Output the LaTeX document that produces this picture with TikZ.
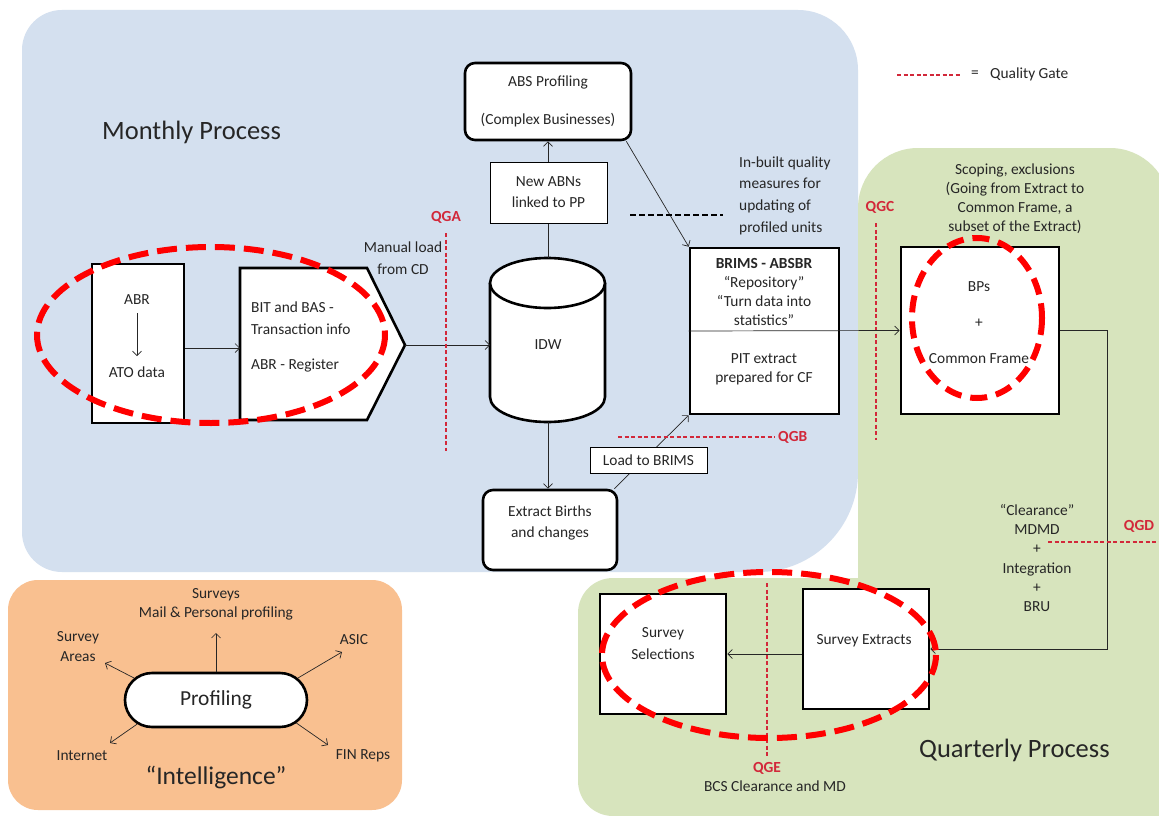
\documentclass[tikz,border=0pt]{standalone}
\usepackage{fontspec}
\setmainfont{Carlito}
\usetikzlibrary{arrows.meta,shapes.misc,calc}
\definecolor{bluebg}{HTML}{D4E0EF}
\definecolor{greenbg}{HTML}{D7E4BD}
\definecolor{orangebg}{HTML}{F9C090}
\definecolor{gatered}{HTML}{D2283A}
\definecolor{haloed}{HTML}{FF0000}
\definecolor{txt}{HTML}{262626}
\newcommand\fs{\fontsize{15.4}{19}\selectfont}
\tikzset{
  every node/.style={font=\fs, text=txt, inner sep=0pt},
  heavybox/.style={draw=black, line width=2.6pt, fill=white, inner sep=0pt},
  lightbox/.style={draw=black, line width=0.8pt, fill=white, inner sep=0pt},
  arr/.style={-{Straight Barb[length=4.5pt,width=9pt]}, line width=0.7pt, draw=black!85},
  gate/.style={draw=gatered, line width=1.8pt, dash pattern=on 4pt off 2.5pt},
  qg/.style={text=gatered, font=\bfseries\fs},
  halo/.style={draw=haloed, line width=6pt, dash pattern=on 20pt off 9pt},
  blackdash/.style={draw=black, line width=2pt, dash pattern=on 6pt off 3pt},
  ctext/.style={align=center},
}
\begin{document}
\begin{tikzpicture}[x=1pt,y=-1pt]
\useasboundingbox (0,0) rectangle (1159,816);
\clip (0,0) rectangle (1159,816);
\fill[white] (0,0) rectangle (1159,816);

% regions
\fill[bluebg] (22,50) arc(180:270:40) -- (798,10) arc(270:360:60) -- (858,472)
  arc(0:90:100) -- (62,572) arc(90:180:40) -- cycle;
\fill[greenbg] (858,208) arc(180:270:60) -- (1110,148) arc(270:360:60) -- (1170,816)
  -- (613,816) arc(90:180:35) -- (578,613) arc(180:270:35) -- (858,578) -- cycle;
\fill[orangebg, rounded corners=30] (8,580) rectangle (402,810);

% titles and legend
\node[anchor=west, font=\fontsize{26.5}{30}\selectfont] (tmonth) at (102,132) {Monthly Process};
\node[anchor=west, font=\fontsize{26.5}{30}\selectfont] (tquart) at (919,750) {Quarterly Process};
\coordinate (lg1) at (897,75);
\coordinate (lg2) at (961,75);
\draw[gate] (lg1) -- (lg2);
\node (lgeq) at (975,74) {=};
\node[anchor=west] (lgtxt) at (990,74) {Quality Gate};

% ABR box
\node[heavybox, minimum width=92, minimum height=159] (abr) at (138,343.5) {};
\node (abrt) at (137,300) {ABR};
\node (ato) at (137,372) {ATO data};
\draw[arr] (137,313) -- (137,356);

% pentagon
\draw[line width=2.6pt, fill=white, line join=miter] (240,268) -- (367,268) -- (405,345) -- (367,420) -- (240,420) -- cycle;
\coordinate (pentw) at (240,348);
\coordinate (penttip) at (405,345);
\node[anchor=west] (bit) at (251,307) {BIT and BAS -};
\node[anchor=west] (trans) at (251,329) {Transaction info};
\node[anchor=west] (reg) at (251,366) {ABR - Register};
\draw[arr] (abr.east |- pentw) -- (pentw);

% IDW cylinder
\draw[line width=2.6pt, fill=white] (490,283) -- (490,397) arc(180:0:57.5 and 25) -- (605,283);
\draw[line width=2.6pt, fill=white] (547.5,283) ellipse[x radius=57.5, y radius=25];
\coordinate (idwn) at (548,258);
\coordinate (idws) at (548,422);
\coordinate (idww) at (490,345);
\node (idw) at (548,345) {IDW};
\draw[arr] (penttip) -- (idww);

% manual load, QGA
\node[ctext, font=\fontsize{15.4}{22}\selectfont] (manual) at (403,258) {Manual load\\from CD};
\node[qg] (qga) at (446,217) {QGA};
\coordinate (qga1) at (446,233);
\coordinate (qga2) at (446,451);
\draw[gate] (qga1) -- (qga2);

% ABS profiling
\node[heavybox, rounded corners=10, minimum width=166, minimum height=77, ctext] (absp) at (548,101.5) {ABS Profiling\\[19pt](Complex Businesses)};
\draw[arr] (idwn) -- (absp.south);
\node[lightbox, minimum width=117, minimum height=61, ctext, font=\fontsize{15.4}{21}\selectfont] (abn) at (548.5,192.5) {New ABNs\\linked to PP};

% BRIMS
\node[heavybox, minimum width=149, minimum height=166] (brims) at (764.5,331) {};
\node[ctext] (brimst) at (764,292.5) {\textbf{BRIMS - ABSBR}\\“Repository”\\“Turn data into\\statistics”};
\node[ctext] (pit) at (764,369.5) {PIT extract\\prepared for CF};
\draw[arr] ($(absp.south east)+(-6,0)$) -- (brims.north west);

% in-built quality
\draw[blackdash] (630,215) -- (723,215);
\node[anchor=west, align=left, font=\fontsize{15.4}{21.7}\selectfont] (inbuilt) at (739,195.5) {In-built quality\\measures for\\updating of\\profiled units};

% Extract births
\node[heavybox, rounded corners=10, minimum width=134, minimum height=80] (ext) at (550,530) {};
\node[ctext, font=\fontsize{15.4}{21}\selectfont] (extt) at (550,522.5) {Extract Births\\and changes};
\draw[arr] (idws) -- (idws |- ext.north);
\draw[arr] ($(ext.north east)+(-4,0)$) -- (brims.south west);
\node[lightbox, minimum width=117, minimum height=26] (ltb) at (648.5,460) {Load to BRIMS};

% QGB
\coordinate (qgb1) at (618,437);
\coordinate (qgb2) at (775,437);
\draw[gate] (qgb1) -- (qgb2);
\node[qg, anchor=west] (qgb) at (778,437) {QGB};

% QGC and BPs
\node[qg] (qgc) at (880,207) {QGC};
\coordinate (qgc1) at (876,223);
\coordinate (qgc2) at (876,440);
\draw[gate] (qgc1) -- (qgc2);
\node[ctext] (scoping) at (1015,199) {Scoping, exclusions\\(Going from Extract to\\Common Frame, a\\subset of the Extract)};
\node[heavybox, minimum width=158, minimum height=167] (bps) at (980,330.5) {};
\node[ctext] (bpst) at (979,323) {BPs\\[17pt]+\\[17pt]Common Frame};
\draw[arr] (brims.west) -- (bps.west);

% survey boxes
\node[heavybox, minimum width=126, minimum height=120] (ssel) at (663,654) {};
\node[ctext, font=\fontsize{15.4}{22}\selectfont] (sselt) at (663,644) {Survey\\Selections};
\node[heavybox, minimum width=126, minimum height=120] (sext) at (866,649) {};
\node (sextt) at (864,641) {Survey Extracts};
\draw[arr] (bps.east) -- ++(47,0) |- (sext.east);
\draw[arr] (sext.west |- ssel.east) -- (ssel.east);

% clearance, QGD
\node[ctext, font=\fontsize{15.4}{19.2}\selectfont] (clear) at (1037,558) {“Clearance”\\MDMD\\+\\Integration\\+\\BRU};
\node[qg] (qgd) at (1139,526) {QGD};
\coordinate (qgd1) at (1048,542);
\coordinate (qgd2) at (1159,542);
\draw[gate] (qgd1) -- (qgd2);

% QGE
\coordinate (qge1) at (767,583);
\coordinate (qge2) at (767,758);
\draw[gate] (qge1) -- (qge2);
\node[qg] (qge) at (767,768) {QGE};
\node (bcs) at (775,786) {BCS Clearance and MD};

% red halo ellipses
\draw[halo] (211,335) ellipse[x radius=174, y radius=88];
\draw[halo, dash pattern=on 17pt off 9pt] (977,318) ellipse[x radius=65, y radius=80];
\draw[halo] (769,655) ellipse[x radius=167, y radius=83];

% intelligence
\node[rounded rectangle, draw=black, line width=2.6pt, fill=white, minimum width=182, minimum height=54, font=\fontsize{21.4}{24}\selectfont] (prof) at (216,700) {Profiling};
\node[ctext] (surv) at (216,604.5) {Surveys\\Mail \& Personal profiling};
\node[ctext, font=\fontsize{15.4}{20}\selectfont] (areas) at (78,647) {Survey\\Areas};
\node (asic) at (354,640) {ASIC};
\node (inet) at (82,756) {Internet};
\node (fin) at (363,756) {FIN Reps};
\node[font=\fontsize{25.5}{28}\selectfont] (intel) at (216,777) {“Intelligence”};
\coordinate (psurv) at (216,633);
\coordinate (pareas) at (105,663);
\coordinate (pasic) at (342,652);
\coordinate (pinet) at (110,743);
\coordinate (pfin) at (328,745);
\draw[arr] (prof.north) -- (psurv);
\draw[arr] (prof.165) -- (pareas);
\draw[arr] (prof.15) -- (pasic);
\draw[arr] (prof.197) -- (pinet);
\draw[arr] (prof.-16) -- (pfin);
\end{tikzpicture}
\end{document}
